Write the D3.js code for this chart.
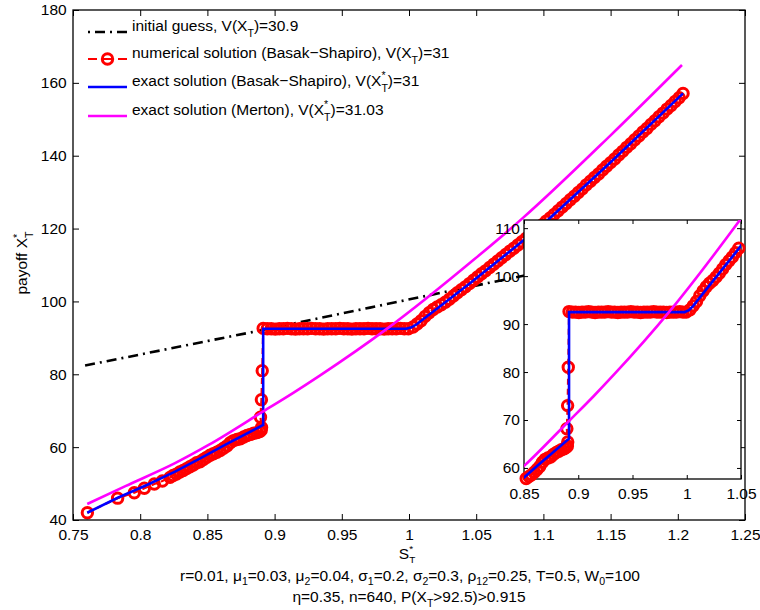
<!DOCTYPE html>
<html>
<head>
<meta charset="utf-8">
<script src="https://cdn.jsdelivr.net/npm/d3@7"></script>
<style>
  html, body { margin: 0; padding: 0; background: #fff; }
  svg { display: block; font-family: "Liberation Sans", Arial, Helvetica, sans-serif; }
</style>
</head>
<body>
<svg id="chart" width="760" height="610"></svg>
<script>
// ---- tick values and labels ----
const xTicks = [0.75, 0.8, 0.85, 0.9, 0.95, 1, 1.05, 1.1, 1.15, 1.2, 1.25];
const xTickLabels = ["0.75", "0.8", "0.85", "0.9", "0.95", "1", "1.05", "1.1", "1.15", "1.2", "1.25"];
const yTicks = [40, 60, 80, 100, 120, 140, 160, 180];
const yTickLabels = ["40", "60", "80", "100", "120", "140", "160", "180"];
const insetXTicks = [0.85, 0.9, 0.95, 1, 1.05];
const insetXTickLabels = ["0.85", "0.9", "0.95", "1", "1.05"];
const insetYTicks = [60, 70, 80, 90, 100, 110];
const insetYTickLabels = ["60", "70", "80", "90", "100", "110"];

// ---- initial guess (dash-dot) ----
const guessS = [0.759, 0.889, 0.971, 1.045, 1.070, 1.204];
const guessX = [82.4, 92.0, 98.3, 104.0, 105.9, 116.0];

// ---- numerical solution (Basak-Shapiro), one circle per point ----
const numS = [
  0.7607, 0.7832, 0.7956, 0.8031, 0.8105, 0.8165, 0.8222,
  0.8245, 0.8270, 0.8295, 0.8320, 0.8345, 0.8370, 0.8395, 0.8420, 0.8445, 0.8470,
  0.8495, 0.8520, 0.8545, 0.8570, 0.8595, 0.8620, 0.8645, 0.8670, 0.8695, 0.8720,
  0.8745, 0.8770, 0.8795, 0.8820, 0.8845, 0.8870, 0.8890, 0.8900, 0.8903,
  0.8895, 0.8902, 0.8908,
  0.8915, 0.8945, 0.8975, 0.9005, 0.9035, 0.9065, 0.9095, 0.9125, 0.9155, 0.9185,
  0.9215, 0.9245, 0.9275, 0.9305, 0.9335, 0.9365, 0.9395, 0.9425, 0.9455, 0.9485,
  0.9515, 0.9545, 0.9575, 0.9605, 0.9635, 0.9665, 0.9695, 0.9725, 0.9755, 0.9785,
  0.9815, 0.9845, 0.9875, 0.9905, 0.9935, 0.9965, 0.9995,
  1.003, 1.006, 1.009, 1.012, 1.015, 1.018, 1.021, 1.024, 1.027, 1.030,
  1.033, 1.036, 1.039, 1.042, 1.045, 1.048, 1.051, 1.054, 1.057, 1.060,
  1.063, 1.066, 1.069, 1.072, 1.075, 1.078, 1.081, 1.084, 1.087, 1.090,
  1.093, 1.096, 1.099, 1.102, 1.105, 1.108, 1.111, 1.114, 1.117, 1.120,
  1.123, 1.126, 1.129, 1.132, 1.135, 1.138, 1.141, 1.144, 1.147, 1.150,
  1.153, 1.156, 1.159, 1.162, 1.165, 1.168, 1.171, 1.174, 1.177, 1.180,
  1.183, 1.186, 1.189, 1.192, 1.195, 1.198, 1.201, 1.2039
];
const numX = [
  42.0, 46.0, 47.5, 48.7, 49.9, 50.7, 51.7,
  52.2, 52.6, 53.2, 53.6, 54.1, 54.6, 55.1, 55.7, 56.0, 56.6,
  57.2, 57.8, 58.2, 58.6, 59.1, 59.7, 60.3, 61.2, 61.8, 62.1,
  62.3, 62.8, 63.2, 63.5, 63.8, 64.0, 64.3, 64.6, 65.4,
  68.2, 73.0, 81.0,
  92.6, 92.5, 92.5, 92.4, 92.5, 92.5, 92.6, 92.5, 92.4, 92.5,
  92.5, 92.5, 92.6, 92.5, 92.5, 92.4, 92.5, 92.5, 92.5, 92.6,
  92.5, 92.5, 92.4, 92.5, 92.5, 92.5, 92.6, 92.5, 92.5, 92.5,
  92.4, 92.5, 92.5, 92.5, 92.6, 92.5, 92.5,
  93.0, 93.8, 94.7, 95.9, 96.9, 97.8, 98.5, 99.1, 99.8, 100.6,
  101.5, 102.4, 103.2, 104.0, 104.9, 105.8, 106.7, 107.6, 108.4, 109.3,
  110.2, 111.1, 112.0, 112.9, 113.8, 114.6, 115.5, 116.4, 117.3, 118.3,
  119.2, 120.1, 121.0, 122.0, 122.9, 123.9, 124.9, 125.9, 126.9, 127.9,
  128.9, 129.9, 130.9, 132.0, 133.0, 134.0, 135.0, 136.1, 137.1, 138.1,
  139.1, 140.2, 141.2, 142.3, 143.3, 144.4, 145.4, 146.5, 147.5, 148.6,
  149.6, 150.7, 151.7, 152.8, 153.8, 154.9, 155.9, 157.1
];

// ---- exact solution (Basak-Shapiro) ----
const exactS = [0.7606, 0.7833, 0.805, 0.8259, 0.845, 0.8631, 0.8915, 0.8915, 0.998, 1.002, 1.006, 1.02, 1.0454, 1.085, 1.1037, 1.15, 1.2039];
const exactX = [42.0, 46.1, 49.6, 53.3, 57.0, 60.6, 66.1, 92.5, 92.5, 92.9, 93.8, 97.8, 105.0, 116.7, 122.5, 138.2, 157.1];

// ---- exact solution (Merton) ----
const mertonS = [0.7606, 0.789, 0.8259, 0.8509, 0.8915, 0.9139, 0.9339, 0.984, 1.049, 1.085, 1.15, 1.2031];
const mertonX = [44.4, 49.3, 55.6, 60.6, 69.8, 74.9, 79.7, 92.6, 111.7, 123.0, 145.6, 164.9];

// ---- legend and caption text ----
const legendItems = [
  { key: "guess", parts: ["initial guess, V(X", { sub: "T" }, ")=30.9"] },
  { key: "num", parts: ["numerical solution (Basak\u2212Shapiro), V(X", { sub: "T" }, ")=31"] },
  { key: "exact", parts: ["exact solution (Basak\u2212Shapiro), V(X", { stack: ["*", "T"] }, ")=31"] },
  { key: "merton", parts: ["exact solution (Merton), V(X", { stack: ["*", "T"] }, ")=31.03"] }
];
const captionLine1 = ["r=0.01, \u03bc", { sub: "1" }, "=0.03, \u03bc", { sub: "2" }, "=0.04, \u03c3", { sub: "1" },
  "=0.2, \u03c3", { sub: "2" }, "=0.3, \u03c1", { sub: "12" }, "=0.25, T=0.5, W", { sub: "0" }, "=100"];
const captionLine2 = ["\u03b7=0.35, n=640, P(X", { sub: "T" }, ">92.5)>0.915"];

// ---- styling ----
const FONT = 15.5;
const C_RED = "#ff0000", C_BLUE = "#0000ff", C_MAG = "#ff00ff", C_BLACK = "#000";
const LW = 2.6;
const GUESS_DASH = "10,5,2,5";
const MARK_R = 5.2, MARK_W = 3;

const svg = d3.select("#chart");
svg.append("rect").attr("width", 760).attr("height", 610).attr("fill", "#fff");

// text with sub/superscripts built from tspans
function rich(sel, parts, fs, opt = {}) {
  let cur = 0;
  const subDy = fs * (opt.sub ?? 0.36), supDy = -fs * (opt.sup ?? 0.42), small = fs * (opt.small ?? 0.68);
  parts.forEach(p => {
    if (typeof p === "string") {
      sel.append("tspan").attr("dy", -cur).text(p); cur = 0;
    } else if (p.sub) {
      sel.append("tspan").attr("dy", subDy - cur).attr("font-size", small).text(p.sub); cur = subDy;
    } else if (p.sup) {
      sel.append("tspan").attr("dy", supDy - cur).attr("font-size", small).text(p.sup); cur = supDy;
    } else if (p.stack) {
      const a = sel.append("tspan").attr("dy", supDy - cur).attr("font-size", small).text(p.stack[0]);
      const w = a.node().getComputedTextLength();
      sel.append("tspan").attr("dx", -w).attr("dy", subDy - supDy).attr("font-size", small).text(p.stack[1]);
      cur = subDy;
    }
  });
  return sel;
}

const pts = (S, X) => S.map((s, i) => [s, X[i]]);
const guessPts = pts(guessS, guessX);
const numPts = pts(numS, numX);
const exactPts = pts(exactS, exactX);
const mertonPts = pts(mertonS, mertonX);

// draws the series into a group for the given scales
function drawSeries(g, x, y, clipId, inDomain, withGuess) {
  const lines = g.append("g").attr("clip-path", `url(#${clipId})`);
  const lin = d3.line().x(d => x(d[0])).y(d => y(d[1]));
  const smooth = d3.line().x(d => x(d[0])).y(d => y(d[1])).curve(d3.curveMonotoneX);

  if (withGuess) {
    lines.append("path").attr("d", lin(guessPts)).attr("fill", "none")
      .attr("stroke", C_BLACK).attr("stroke-width", LW).attr("stroke-dasharray", GUESS_DASH);
  }

  lines.append("path").attr("d", lin(numPts)).attr("fill", "none")
    .attr("stroke", C_RED).attr("stroke-width", 2.2).attr("stroke-dasharray", "6,4");
  g.append("g").selectAll("circle").data(numPts.filter(inDomain)).join("circle")
    .attr("cx", d => x(d[0])).attr("cy", d => y(d[1])).attr("r", MARK_R)
    .attr("fill", "none").attr("stroke", C_RED).attr("stroke-width", MARK_W);

  const top = g.append("g").attr("clip-path", `url(#${clipId})`);
  top.append("path").attr("d", lin(exactPts)).attr("fill", "none")
    .attr("stroke", C_BLUE).attr("stroke-width", LW);
  top.append("path").attr("d", smooth(mertonPts)).attr("fill", "none")
    .attr("stroke", C_MAG).attr("stroke-width", LW);
}

// draws a boxed axes frame with inward ticks on all sides
function drawFrame(g, x, y, xt, xl, yt, yl, tick, xPad, yPad) {
  const [x0, x1] = x.range(), [y0, y1] = y.range();
  const bottom = g.append("g").attr("transform", `translate(0,${y0})`)
    .call(d3.axisBottom(x).tickValues(xt).tickFormat((d, i) => xl[i]).tickSizeInner(-tick).tickSizeOuter(0).tickPadding(xPad));
  const topAx = g.append("g").attr("transform", `translate(0,${y1})`)
    .call(d3.axisTop(x).tickValues(xt).tickFormat("").tickSizeInner(-tick).tickSizeOuter(0));
  const left = g.append("g").attr("transform", `translate(${x0},0)`)
    .call(d3.axisLeft(y).tickValues(yt).tickFormat((d, i) => yl[i]).tickSizeInner(-tick).tickSizeOuter(0).tickPadding(yPad));
  const right = g.append("g").attr("transform", `translate(${x1},0)`)
    .call(d3.axisRight(y).tickValues(yt).tickFormat("").tickSizeInner(-tick).tickSizeOuter(0));
  [bottom, topAx, left, right].forEach(a => {
    a.select(".domain").remove();
    a.selectAll("line").attr("stroke", C_BLACK).attr("stroke-width", 1);
    a.selectAll("text").attr("font-size", FONT).attr("fill", C_BLACK)
      .attr("font-family", "'Liberation Sans', Arial, Helvetica, sans-serif");
  });
  g.append("rect").attr("x", x0).attr("y", y1).attr("width", x1 - x0).attr("height", y0 - y1)
    .attr("fill", "none").attr("stroke", C_BLACK).attr("stroke-width", 1.3);
}

// ---- main axes ----
const x = d3.scaleLinear().domain([0.75, 1.25]).range([73, 745]);
const y = d3.scaleLinear().domain([40, 180]).range([520, 10]);

const defs = svg.append("defs");
defs.append("clipPath").attr("id", "clipMain").append("rect")
  .attr("x", 73).attr("y", 10).attr("width", 672).attr("height", 510);
defs.append("clipPath").attr("id", "clipInset").append("rect")
  .attr("x", 524).attr("y", 220).attr("width", 217).attr("height", 259);

const main = svg.append("g");
drawSeries(main, x, y, "clipMain", d => d[0] >= 0.75 && d[0] <= 1.25 && d[1] >= 40 && d[1] <= 180, true);
drawFrame(main, x, y, xTicks, xTickLabels, yTicks, yTickLabels, 6, 8.5, 6.3);

// axis titles
rich(svg.append("text").attr("x", 407).attr("y", 558.6).attr("text-anchor", "middle")
  .attr("font-size", FONT), ["S", { stack: ["*", "T"] }], FONT, { sub: 0.3, sup: 0.42, small: 0.64 });
rich(svg.append("text").attr("transform", "translate(27,263) rotate(-90)").attr("text-anchor", "middle")
  .attr("font-size", FONT), ["payoff X", { stack: ["*", "T"] }], FONT);

// caption lines
rich(svg.append("text").attr("x", 410).attr("y", 580.5).attr("text-anchor", "middle").attr("font-size", FONT), captionLine1, FONT, { sub: 0.3 });
rich(svg.append("text").attr("x", 409).attr("y", 602).attr("text-anchor", "middle").attr("font-size", FONT), captionLine2, FONT, { sub: 0.3 });

// ---- legend ----
const legend = svg.append("g");
const legendBase = [31, 58, 86, 115];
legendItems.forEach((it, i) => {
  const ly = legendBase[i] + 1;
  const lg = legend.append("g");
  if (it.key === "guess") {
    lg.append("line").attr("x1", 88).attr("x2", 127).attr("y1", ly).attr("y2", ly)
      .attr("stroke", C_BLACK).attr("stroke-width", LW).attr("stroke-dasharray", "2,5,10,5");
  } else if (it.key === "num") {
    lg.append("line").attr("x1", 88).attr("x2", 127).attr("y1", ly).attr("y2", ly)
      .attr("stroke", C_RED).attr("stroke-width", 2.2).attr("stroke-dasharray", "9,6");
    lg.append("circle").attr("cx", 107.5).attr("cy", ly).attr("r", MARK_R)
      .attr("fill", "none").attr("stroke", C_RED).attr("stroke-width", MARK_W);
  } else {
    lg.append("line").attr("x1", 88).attr("x2", 127).attr("y1", ly).attr("y2", ly)
      .attr("stroke", it.key === "exact" ? C_BLUE : C_MAG).attr("stroke-width", LW);
  }
  rich(lg.append("text").attr("x", 132).attr("y", legendBase[i]).attr("font-size", FONT), it.parts, FONT);
});

// ---- inset (zoom on the jump region) ----
const xi = d3.scaleLinear().domain([0.85, 1.05]).range([524, 741]);
const yi = d3.scaleLinear().domain([57.7, 111.7]).range([479, 220]);
const inset = svg.append("g");
inset.append("rect").attr("x", 524).attr("y", 220).attr("width", 217).attr("height", 259).attr("fill", "#fff");
const insetFrame = inset.append("g");
drawFrame(insetFrame, xi, yi, insetXTicks, insetXTickLabels, insetYTicks, insetYTickLabels, 4, 8.5, 4);
drawSeries(inset, xi, yi, "clipInset", d => d[0] >= 0.85 && d[0] <= 1.05 && d[1] >= 57.7 && d[1] <= 111.7, false);
</script>
</body>
</html>
